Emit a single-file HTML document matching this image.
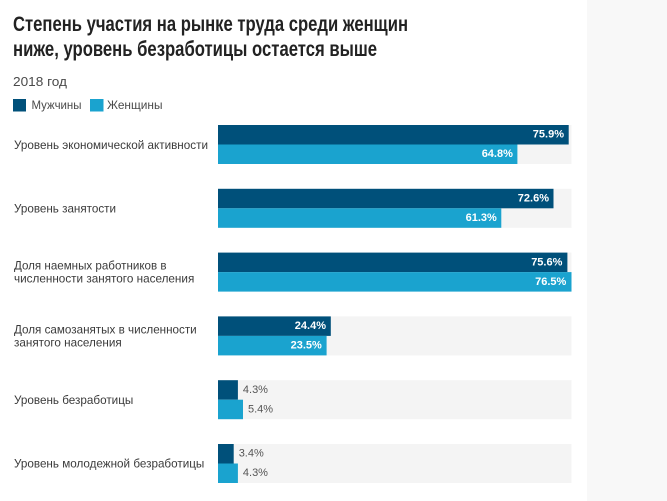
<!DOCTYPE html>
<html>
<head>
<meta charset="utf-8">
<style>
  html,body{margin:0;padding:0;background:#fff;}
  svg{display:block;}
</style>
</head>
<body>
<svg width="667" height="501" viewBox="0 0 667 501" xmlns="http://www.w3.org/2000/svg" font-family="'Liberation Sans', Arial, sans-serif">
  <rect x="0" y="0" width="667" height="501" fill="#ffffff"/>
  <rect x="587" y="0" width="80" height="501" fill="#f8f8f8"/>

  <!-- Title -->
  <text x="13" y="31" font-size="21" font-weight="bold" fill="#222" textLength="395" lengthAdjust="spacingAndGlyphs">Степень участия на рынке труда среди женщин</text>
  <text x="13" y="56" font-size="21" font-weight="bold" fill="#222" textLength="364" lengthAdjust="spacingAndGlyphs">ниже, уровень безработицы остается выше</text>

  <!-- Subtitle -->
  <text x="13" y="86" font-size="13" fill="#4a4a4a" textLength="54" lengthAdjust="spacingAndGlyphs">2018 год</text>

  <!-- Legend -->
  <rect x="13" y="99" width="13" height="12.5" fill="#00507a"/>
  <text x="31.5" y="109" font-size="12" fill="#4a4a4a" textLength="50" lengthAdjust="spacingAndGlyphs">Мужчины</text>
  <rect x="90" y="99" width="13.5" height="12.5" fill="#1aa3cf"/>
  <text x="107" y="109" font-size="12" fill="#4a4a4a" textLength="55.5" lengthAdjust="spacingAndGlyphs">Женщины</text>

  <!-- Tracks -->
  <g fill="#f4f4f4">
    <rect x="218" y="125" width="353.5" height="39"/>
    <rect x="218" y="188.8" width="353.5" height="39"/>
    <rect x="218" y="252.6" width="353.5" height="39"/>
    <rect x="218" y="316.4" width="353.5" height="39"/>
    <rect x="218" y="380.2" width="353.5" height="39"/>
    <rect x="218" y="444" width="353.5" height="39"/>
  </g>

  <!-- Labels -->
  <g font-size="12" fill="#3a3a3a">
    <text x="14" y="149" textLength="194" lengthAdjust="spacingAndGlyphs">Уровень экономической активности</text>
    <text x="14" y="212.5" textLength="102" lengthAdjust="spacingAndGlyphs">Уровень занятости</text>
    <text x="14" y="269.3" textLength="152.5" lengthAdjust="spacingAndGlyphs">Доля наемных работников в</text>
    <text x="14" y="282.3" textLength="180.3" lengthAdjust="spacingAndGlyphs">численности занятого населения</text>
    <text x="14" y="333.3" textLength="182.7" lengthAdjust="spacingAndGlyphs">Доля самозанятых в численности</text>
    <text x="14" y="346.3" textLength="107.7" lengthAdjust="spacingAndGlyphs">занятого населения</text>
    <text x="14" y="404" textLength="119.3" lengthAdjust="spacingAndGlyphs">Уровень безработицы</text>
    <text x="14" y="467.5" textLength="190.3" lengthAdjust="spacingAndGlyphs">Уровень молодежной безработицы</text>
  </g>

  <!-- Bars: men -->
  <g fill="#00507a">
    <rect x="218" y="125" width="350.7" height="19.5"/>
    <rect x="218" y="188.8" width="335.5" height="19.5"/>
    <rect x="218" y="252.6" width="349.4" height="19.5"/>
    <rect x="218" y="316.4" width="112.8" height="19.5"/>
    <rect x="218" y="380.2" width="19.9" height="19.5"/>
    <rect x="218" y="444" width="15.7" height="19.5"/>
  </g>
  <!-- Bars: women -->
  <g fill="#1aa3cf">
    <rect x="218" y="144.5" width="299.4" height="19.5"/>
    <rect x="218" y="208.3" width="283.3" height="19.5"/>
    <rect x="218" y="272.1" width="353.5" height="19.5"/>
    <rect x="218" y="335.9" width="108.6" height="19.5"/>
    <rect x="218" y="399.7" width="25" height="19.5"/>
    <rect x="218" y="463.5" width="19.9" height="19.5"/>
  </g>

  <!-- Value labels inside -->
  <g font-size="11" font-weight="bold" fill="#ffffff" text-anchor="end">
    <text x="564" y="137.7">75.9%</text>
    <text x="512.9" y="157.2">64.8%</text>
    <text x="549" y="201.5">72.6%</text>
    <text x="496.8" y="221">61.3%</text>
    <text x="562.4" y="265.3">75.6%</text>
    <text x="566.3" y="284.8">76.5%</text>
    <text x="326" y="329.1">24.4%</text>
    <text x="321.8" y="348.6">23.5%</text>
  </g>
  <!-- Value labels outside -->
  <g font-size="11" fill="#555">
    <text x="242.9" y="392.9">4.3%</text>
    <text x="248" y="412.4">5.4%</text>
    <text x="238.7" y="456.7">3.4%</text>
    <text x="242.9" y="476.2">4.3%</text>
  </g>
</svg>
</body>
</html>
